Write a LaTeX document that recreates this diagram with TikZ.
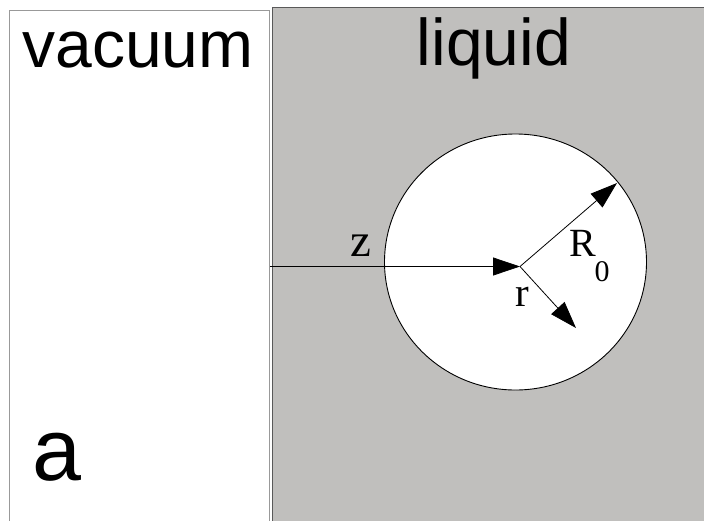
\documentclass[tikz,border=0pt]{standalone}
\usepackage{fontspec}
\setmainfont{Liberation Serif}
\newfontfamily\labelfont{Liberation Sans}
\usetikzlibrary{arrows.meta}
\definecolor{liquidgray}{HTML}{C0BFBD}
\tikzset{
  side/.style={inner sep=0pt,font=\labelfont\fontsize{66}{66}\selectfont},
  sym/.style={inner sep=0pt,font=\fontsize{44}{44}\selectfont},
  vec/.style={line width=.8pt,-{Triangle[length=27pt,width=18pt]}}
}
\begin{document}
\begin{tikzpicture}[x=1pt,y=-1pt,line width=1pt]
\path[use as bounding box] (0,0) rectangle (704,520);
\draw[gray!80] (9.5,530) -- (9.5,10.5) -- (269.5,10.5) -- (269.5,530);
\fill[liquidgray] (272,7) rectangle (710,530);
\draw[black!65] (272,530) -- (272,7) -- (710,7);
\draw[fill=white,line width=.9pt] (515.5,262) ellipse (131 and 128);
\node[side] (vac) at (138,50) {vacuum};
\node[side] (liq) at (494,48) {liquid};
\node[side,font=\labelfont\fontsize{88}{88}\selectfont] (lbla) at (57,457) {a};
\coordinate (wall) at (270,266.5);
\coordinate (c) at (520,266.5);
\coordinate (tipR) at (617,183);
\coordinate (tipr) at (576,328);
\draw[vec] (wall) -- (c);
\draw[vec] (c) -- (tipR);
\draw[vec] (c) -- (tipr);
\node[sym,font=\fontsize{47}{47}\selectfont] (z) at (361,246) {z};
\node[sym,font=\fontsize{40}{40}\selectfont] (R) at (583,243) {R};
\node[sym,font=\fontsize{30}{30}\selectfont] (R0) at (602,272) {0};
\node[sym,font=\fontsize{41}{41}\selectfont] (r) at (522,297) {r};
\end{tikzpicture}
\end{document}
